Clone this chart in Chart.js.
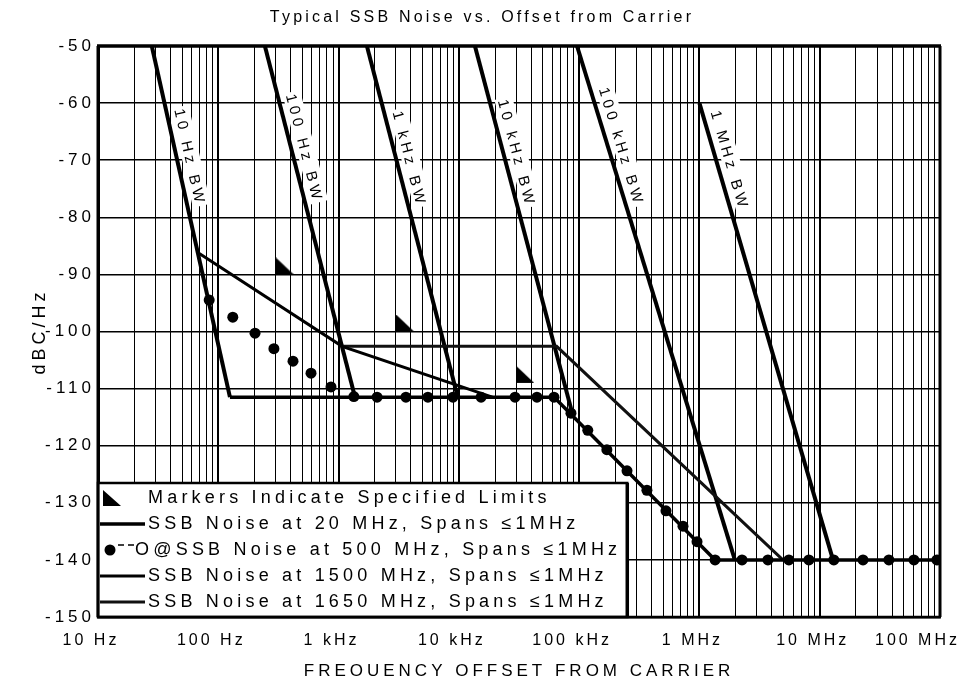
<!DOCTYPE html>
<html>
<head>
<meta charset="utf-8">
<title>Typical SSB Noise vs. Offset from Carrier</title>
<script src="https://cdn.jsdelivr.net/npm/chart.js@4.4.0/dist/chart.umd.min.js"></script>
<style>
  html, body { margin: 0; padding: 0; background: #fff; }
  #wrap { width: 964px; height: 685px; }
</style>
</head>
<body>
<div id="wrap"><canvas id="ssb"></canvas></div>
<script>
(function () {
    'use strict';

    /* ── axis ── */
    const xDecades    = [10, 100, 1e3, 1e4, 1e5, 1e6, 1e7, 1e8];
    const xTickLabels = ['10 Hz', '100 Hz', '1 kHz', '10 kHz', '100 kHz', '1 MHz', '10 MHz', '100 MHz'];
    const yMin = -150, yMax = -50, yStep = 10;

    /* ── resolution bandwidth skirts ── */
    const bwLabels  = ['10 Hz BW', '100 Hz BW', '1 kHz BW', '10 kHz BW', '100 kHz BW', '1 MHz BW'];
    const bwFreq    = [[28, 125], [244, 1370], [1720, 9800], [13600, 88700], [96000, 1970000], [1000000, 12900000]];
    const bwLevel   = [[-50, -111.5], [-50, -111.5], [-50, -111.5], [-50, -114.7], [-50, -140], [-60, -140]];
    const bwLabelAt = [-61.5, -59, -62, -60, -58, -62];

    /* ── specified limits ── */
    const limitFreq  = [300, 3000, 30000];
    const limitLevel = [-90, -100, -109];

    /* ── SSB noise curves ── */
    const n20Freq  = [125, 62000, 1350000, 1e8];
    const n20Level = [-111.5, -111.5, -140, -140];

    const n500Freq  = [84, 132, 202, 290, 418, 590, 865, 1340, 2090, 3630, 5530, 8930, 15300, 29300, 44600, 61800,
                       85500, 118000, 170000, 250000, 366000, 527000, 730000, 955000,
                       1.35e6, 2.26e6, 3.71e6, 5.54e6, 8.13e6, 1.31e7, 2.29e7, 3.76e7, 6.07e7, 9.42e7];
    const n500Level = [-94.5, -97.5, -100.3, -103, -105.2, -107.3, -109.7, -111.4, -111.5, -111.5, -111.5, -111.5, -111.5, -111.5, -111.5, -111.5,
                       -114.3, -117.3, -120.7, -124.4, -127.8, -131.4, -134.1, -136.8,
                       -140, -140, -140, -140, -140, -140, -140, -140, -140, -140];

    const n1500Freq  = [68, 1070, 19000];
    const n1500Level = [-86.2, -102.6, -111.5];

    const n1650Freq  = [1070, 65000, 4940000];
    const n1650Level = [-102.6, -102.6, -140];

    const FONT = "'Liberation Sans', Arial, Helvetica, sans-serif";
    const pts = (xs, ys) => xs.map((x, i) => ({ x, y: ys[i] }));
    const isDecade = v => Math.abs(Math.log10(v) - Math.round(Math.log10(v))) < 1e-9;

    /* right-angle marker, corner sits on the limit point */
    function limitMarker() {
        const c = document.createElement('canvas');
        c.width = 36; c.height = 34;
        const g = c.getContext('2d');
        g.fillStyle = '#000';
        g.beginPath();
        g.moveTo(18, 0); g.lineTo(18, 17); g.lineTo(36, 17);
        g.closePath(); g.fill();
        return c;
    }

    const datasets = [
        {
            label: 'Markers Indicate Specified Limits',
            data: pts(limitFreq, limitLevel),
            showLine: false, pointStyle: limitMarker(), pointRadius: 5
        },
        {
            label: 'SSB Noise at 20 MHz, Spans \u22641MHz',
            data: pts(n20Freq, n20Level),
            borderColor: '#000', borderWidth: 3.5, pointRadius: 0
        },
        {
            label: 'O@SSB Noise at 500 MHz, Spans \u22641MHz',
            data: pts(n500Freq, n500Level),
            showLine: false, pointRadius: 5.5, pointBackgroundColor: '#000', pointBorderWidth: 0
        },
        {
            label: 'SSB Noise at 1500 MHz, Spans \u22641MHz',
            data: pts(n1500Freq, n1500Level),
            borderColor: '#000', borderWidth: 3, pointRadius: 0
        },
        {
            label: 'SSB Noise at 1650 MHz, Spans \u22641MHz',
            data: pts(n1650Freq, n1650Level),
            borderColor: '#111', borderWidth: 3, pointRadius: 0
        }
    ].concat(bwFreq.map((f, i) => ({
        data: pts(f, bwLevel[i]),
        borderColor: '#000', borderWidth: 4, pointRadius: 0,
        bwLabel: bwLabels[i], bwLabelAt: bwLabelAt[i]
    })));

    /* everything on this sheet is letter-spaced */
    const spacing = {
        id: 'spacing',
        beforeLayout(chart, args, opts) { chart.ctx.letterSpacing = opts.value; },
        beforeDraw(chart, args, opts) { chart.ctx.letterSpacing = opts.value; }
    };

    /* sheet title, centred on the page rather than the grid */
    const sheetTitle = {
        id: 'sheetTitle',
        afterDraw(chart, args, opts) {
            const { ctx } = chart;
            ctx.save();
            ctx.font = opts.font;
            ctx.letterSpacing = opts.spacing;
            ctx.fillStyle = '#000';
            ctx.textAlign = 'center';
            ctx.textBaseline = 'middle';
            ctx.fillText(opts.text, chart.width / 2, opts.y);
            ctx.restore();
        }
    };

    /* rotated captions along each bandwidth skirt */
    const bwText = {
        id: 'bwText',
        afterDatasetsDraw(chart, args, opts) {
            const { ctx, scales: { x, y } } = chart;
            chart.data.datasets.forEach(d => {
                if (!d.bwLabel) return;
                const a = d.data[0], b = d.data[d.data.length - 1];
                const ax = x.getPixelForValue(a.x), ay = y.getPixelForValue(a.y);
                const bx = x.getPixelForValue(b.x), by = y.getPixelForValue(b.y);
                const ang = Math.atan2(by - ay, bx - ax);
                const sy = y.getPixelForValue(d.bwLabelAt);
                const sx = ax + (bx - ax) * (sy - ay) / (by - ay);
                ctx.save();
                ctx.translate(sx, sy);
                ctx.rotate(ang);
                ctx.font = opts.font;
                ctx.letterSpacing = opts.spacing;
                const w = ctx.measureText(d.bwLabel).width;
                ctx.fillStyle = '#fff';
                ctx.fillRect(-2, -opts.gap - 15, w + 2, 18);
                ctx.fillStyle = '#000';
                ctx.textAlign = 'left';
                ctx.textBaseline = 'alphabetic';
                ctx.fillText(d.bwLabel, 0, -opts.gap);
                ctx.restore();
            });
        }
    };

    /* boxed key in the lower left corner of the plot */
    function drawSample(ctx, d, x0, x1, cy) {
        ctx.save();
        ctx.strokeStyle = '#000';
        ctx.fillStyle = '#000';
        if (d.pointStyle instanceof HTMLCanvasElement) {
            ctx.beginPath();
            ctx.moveTo(x0 + 3, cy - 8); ctx.lineTo(x0 + 3, cy + 8); ctx.lineTo(x0 + 21, cy + 8);
            ctx.closePath(); ctx.fill();
        } else if (d.showLine === false) {
            ctx.beginPath();
            ctx.arc(x0 + 10, cy, d.pointRadius, 0, Math.PI * 2);
            ctx.fill();
            ctx.lineWidth = 1.5;
            ctx.setLineDash([6, 4]);
            ctx.beginPath(); ctx.moveTo(x0 + 18, cy - 5); ctx.lineTo(x0 + 36, cy - 5); ctx.stroke();
        } else {
            ctx.lineWidth = d.borderWidth;
            ctx.strokeStyle = d.borderColor;
            ctx.beginPath(); ctx.moveTo(x0, cy); ctx.lineTo(x1, cy); ctx.stroke();
        }
        ctx.restore();
    }

    const boxLegend = {
        id: 'boxLegend',
        afterDatasetsDraw(chart, args, opts) {
            const { ctx, chartArea } = chart;
            const items = chart.data.datasets.filter(d => d.label);
            ctx.save();
            ctx.font = opts.font;
            ctx.letterSpacing = opts.spacing;
            const textX = items.map(d => (d.showLine === false && !(d.pointStyle instanceof HTMLCanvasElement)) ? opts.dotTextX : opts.sampleWidth);
            const right = Math.max(...items.map((d, i) => textX[i] + ctx.measureText(d.label).width));
            const w = right + opts.padRight;
            const h = items.length * opts.rowHeight + opts.padY * 2;
            const x0 = chartArea.left, y0 = chartArea.bottom - h;
            ctx.fillStyle = '#fff';
            ctx.fillRect(x0, y0, w, h);
            ctx.strokeStyle = '#000';
            ctx.lineWidth = 2.5;
            ctx.strokeRect(x0, y0, w, h);
            ctx.lineWidth = 3.5;
            ctx.beginPath(); ctx.moveTo(x0 + w, y0); ctx.lineTo(x0 + w, y0 + h); ctx.stroke();
            items.forEach((d, i) => {
                const cy = y0 + opts.padY + opts.rowHeight * (i + 0.5);
                drawSample(ctx, d, x0 + 2, x0 + opts.sampleWidth - 3, cy);
                ctx.fillStyle = '#000';
                ctx.textAlign = 'left';
                ctx.textBaseline = 'middle';
                ctx.fillText(d.label, x0 + textX[i], cy);
            });
            ctx.restore();
        }
    };

    /* heavy frame round the grid */
    const frame = {
        id: 'frame',
        afterDatasetsDraw(chart) {
            const { ctx, chartArea: a } = chart;
            ctx.save();
            ctx.strokeStyle = '#000';
            ctx.lineWidth = 3.5;
            ctx.beginPath(); ctx.moveTo(a.left - 1, a.top); ctx.lineTo(a.right + 1, a.top); ctx.stroke();
            ctx.lineWidth = 3;
            ctx.beginPath(); ctx.moveTo(a.right, a.top); ctx.lineTo(a.right, a.bottom); ctx.stroke();
            ctx.beginPath(); ctx.moveTo(a.left, a.top); ctx.lineTo(a.left, a.bottom); ctx.stroke();
            ctx.lineWidth = 2.5;
            ctx.beginPath(); ctx.moveTo(a.left, a.bottom); ctx.lineTo(a.right, a.bottom); ctx.stroke();
            ctx.restore();
        }
    };

    /* decade labels under the frequency axis */
    const xLabels = {
        id: 'xLabels',
        afterDraw(chart, args, opts) {
            const { ctx, chartArea, scales: { x } } = chart;
            ctx.save();
            ctx.font = opts.font;
            ctx.letterSpacing = opts.spacing;
            ctx.fillStyle = '#000';
            ctx.textAlign = 'center';
            ctx.textBaseline = 'middle';
            xDecades.forEach((v, i) => {
                const w = ctx.measureText(xTickLabels[i]).width;
                let px = x.getPixelForValue(v) + opts.offset;
                px = Math.min(px, chart.width - w / 2 - 4);
                ctx.fillText(xTickLabels[i], px, chartArea.bottom + opts.top);
            });
            ctx.restore();
        }
    };

    Chart.defaults.font.family = FONT;
    Chart.defaults.color = '#000';

    new Chart(document.getElementById('ssb'), {
        type: 'line',
        data: { datasets },
        plugins: [spacing, bwText, boxLegend, frame, xLabels, sheetTitle],
        options: {
            responsive: true, maintainAspectRatio: false,
            animation: false, devicePixelRatio: 1,
            layout: { padding: { top: 46, right: 24, bottom: 0, left: 0 } },
            elements: { line: { tension: 0, borderCapStyle: 'butt' } },
            plugins: {
                spacing: { value: '4px' },
                legend: { display: false },
                tooltip: { enabled: false },
                title: { display: false },
                sheetTitle: {
                    text: 'Typical SSB Noise vs. Offset from Carrier',
                    font: `16px ${FONT}`, spacing: '3.2px', y: 18
                },
                bwText: { font: `15px ${FONT}`, spacing: '4px', gap: 8 },
                boxLegend: {
                    font: `18px ${FONT}`, spacing: '4.2px',
                    sampleWidth: 50, dotTextX: 37, padRight: 6, rowHeight: 26, padY: 2
                },
                xLabels: { font: `16px ${FONT}`, spacing: '3px', offset: -7, top: 24 }
            },
            scales: {
                x: {
                    type: 'logarithmic',
                    min: xDecades[0], max: xDecades[xDecades.length - 1],
                    afterBuildTicks(scale) {
                        const ticks = [];
                        for (let e = 1; e < 8; e++) {
                            for (let m = 1; m <= 9; m++) ticks.push({ value: m * Math.pow(10, e) });
                        }
                        ticks.push({ value: 1e8 });
                        scale.ticks = ticks;
                    },
                    afterFit(scale) { scale.height = 68; },
                    ticks: { display: false },
                    grid: {
                        color: '#000',
                        lineWidth: ctx => (ctx.tick && isDecade(ctx.tick.value) ? 2 : 1),
                        drawTicks: false
                    },
                    border: { display: true, color: '#000', width: 2.5 },
                    title: {
                        display: true,
                        text: 'FREOUENCY OFFSET FROM CARRIER',
                        font: { size: 17 },
                        padding: { top: 0, bottom: 3 }
                    }
                },
                y: {
                    type: 'linear',
                    min: yMin, max: yMax,
                    afterFit(scale) { scale.width = 98; },
                    ticks: { stepSize: yStep, font: { size: 17 }, padding: 3 },
                    grid: { color: '#000', lineWidth: 1.5, drawTicks: false },
                    border: { display: true, color: '#000', width: 3 },
                    title: {
                        display: true,
                        text: 'dBC/Hz',
                        font: { size: 18 },
                        padding: { top: 29, bottom: 0 }
                    }
                }
            }
        }
    });
})();
</script>
</body>
</html>
